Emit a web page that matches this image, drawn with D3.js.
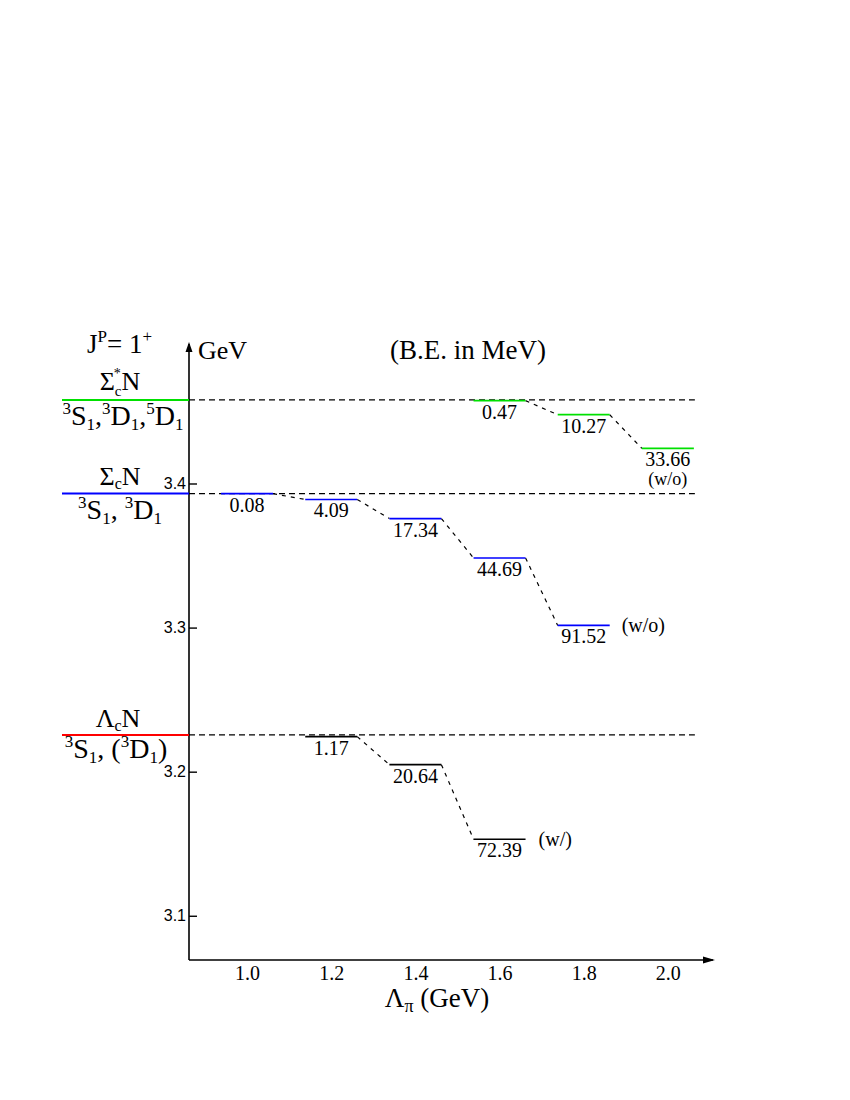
<!doctype html>
<html>
<head>
<meta charset="utf-8">
<style>
  body { margin: 0; background: #fff; }
  svg { display: block; }
  .serif { font-family: "Liberation Serif", "Times New Roman", serif; }
</style>
<script src="https://d3js.org/d3.v7.min.js"></script>
</head>
<body>
<svg width="850" height="1100"></svg>
<script>
// ---- data ----
var xTicks = [1.0, 1.2, 1.4, 1.6, 1.8, 2.0];
var yTicks = [3.1, 3.2, 3.3, 3.4];
var channels = ["SigmaStarN", "SigmaN", "LambdaN"];
var thresholdMass = [3.458, 3.393, 3.2255];     // GeV
var channelColor = ["#00e000", "#0000ff", "#ff0000"];

var sigmaStarLam = [1.6, 1.8, 2.0];
var sigmaStarBE  = [0.47, 10.27, 33.66];       // MeV
var sigmaLam = [1.0, 1.2, 1.4, 1.6, 1.8];
var sigmaBE  = [0.08, 4.09, 17.34, 44.69, 91.52];
var lambdaLam = [1.2, 1.4, 1.6];
var lambdaBE  = [1.17, 20.64, 72.39];

var svg = d3.select("svg");

var x = d3.scaleLinear().domain([0.862, 2.112]).range([189, 715]);
var y = d3.scaleLinear().domain([3.0693, 3.4982]).range([960, 342]);

var halfW = 26;   // half length of a level bar (px)

// axes lines with arrows
svg.append("line").attr("x1", x(0.862)).attr("x2", x(0.862)).attr("y1", y(3.0693)).attr("y2", y(3.4982) + 2)
   .attr("stroke", "#000").attr("stroke-width", 1.6);
svg.append("line").attr("x1", x(0.862)).attr("x2", x(2.112) - 2).attr("y1", y(3.0693)).attr("y2", y(3.0693))
   .attr("stroke", "#000").attr("stroke-width", 1.6);
svg.append("path")
   .attr("d", "M" + x(0.862) + "," + y(3.4982) + " l-3.5,10 l7,0 z").attr("fill", "#000");
svg.append("path")
   .attr("d", "M" + x(2.112) + "," + y(3.0693) + " l-12,-3.5 l0,7 z").attr("fill", "#000");

// y axis ticks (inward) with labels on the left
var yAxis = svg.append("g")
   .attr("transform", "translate(" + x(0.862) + ",0)")
   .call(d3.axisLeft(y).tickValues(yTicks).tickFormat(d3.format(".1f")).tickSize(-8).tickPadding(3));
yAxis.select(".domain").remove();
yAxis.selectAll("line").attr("stroke-width", 1.4);
yAxis.selectAll("text").attr("font-family", "'Liberation Sans', Arial, sans-serif").attr("font-size", 16);

// x axis labels, no ticks
var xAxis = svg.append("g")
   .attr("transform", "translate(0," + y(3.0693) + ")")
   .attr("font-family", "'Liberation Serif', 'Times New Roman', serif")
   .call(d3.axisBottom(x).tickValues(xTicks).tickFormat(d3.format(".1f")).tickSize(0).tickPadding(6));
xAxis.select(".domain").remove();
xAxis.selectAll("text").attr("font-family", "'Liberation Serif', 'Times New Roman', serif")
   .attr("font-size", 20).attr("fill", "#000");

// helper for rich text: parts = [text, size, dy, dx]
function rich(px, py, parts, anchor, size) {
  var t = svg.append("text").attr("class", "serif").attr("x", px).attr("y", py)
    .attr("font-size", size).attr("text-anchor", anchor || "start").attr("fill", "#000");
  parts.forEach(function(p) {
    var s = t.append("tspan").text(p[0]);
    if (p[1]) s.attr("font-size", p[1]);
    if (p[2]) s.attr("dy", p[2]);
    if (p[3]) s.attr("dx", p[3]);
  });
  return t;
}

// headers
rich(87, 353, [["J"], ["P", 17, -11], ["= 1", null, 11], ["+", 17, -11]], "start", 27);
rich(198, 359, [["GeV"]], "start", 26);
rich(468, 359, [["(B.E. in MeV)"]], "middle", 27);

// threshold lines: coloured solid on the left, dashed across the plot
thresholdMass.forEach(function(m, i) {
  svg.append("line").attr("x1", 62).attr("x2", x(0.862)).attr("y1", y(m)).attr("y2", y(m))
     .attr("stroke", channelColor[i]).attr("stroke-width", 2);
  svg.append("line").attr("x1", x(0.862)).attr("x2", x(2.0) + halfW + 1).attr("y1", y(m)).attr("y2", y(m))
     .attr("stroke", "#000").attr("stroke-width", 1.3).attr("stroke-dasharray", "6,4");
});

// channel labels
rich(120, 390, [["Σ"], ["*", 14, -12, -1], ["c", 15, 18, -6], ["N", null, -6]], "middle", 26);
rich(123, 425, [["3", 17, -11], ["S", null, 11], ["1", 17, 5], [",", null, -5], ["3", 17, -11], ["D", null, 11], ["1", 17, 5],
                [",", null, -5], ["5", 17, -11], ["D", null, 11], ["1", 17, 5]], "middle", 28);
rich(120, 485, [["Σ"], ["c", 16, 4], ["N", null, -4]], "middle", 26);
rich(120, 519, [["3", 17, -11], ["S", null, 11], ["1", 17, 5], [", ", null, -5], ["3", 17, -11], ["D", null, 11], ["1", 17, 5]], "middle", 28);
rich(118, 727, [["Λ"], ["c", 16, 4], ["N", null, -4]], "middle", 26);
rich(116, 758, [["3", 17, -11], ["S", null, 11], ["1", 17, 5], [", (", null, -5], ["3", 17, -11], ["D", null, 11], ["1", 17, 5], [")", null, -5]], "middle", 28);

// bound state levels
function levels(lams, bes, mass, color) {
  var pts = lams.map(function(l, i) { return { lam: l, be: bes[i], e: mass - bes[i] / 1000 }; });
  var g = svg.append("g");
  // dashed connectors
  for (var i = 0; i < pts.length - 1; i++) {
    g.append("line")
      .attr("x1", x(pts[i].lam) + halfW).attr("y1", y(pts[i].e))
      .attr("x2", x(pts[i + 1].lam) - halfW).attr("y2", y(pts[i + 1].e))
      .attr("stroke", "#000").attr("stroke-width", 1.2).attr("stroke-dasharray", "4,5");
  }
  g.selectAll("line.lev").data(pts).enter().append("line").attr("class", "lev")
    .attr("x1", function(d) { return x(d.lam) - halfW; })
    .attr("x2", function(d) { return x(d.lam) + halfW; })
    .attr("y1", function(d) { return y(d.e); })
    .attr("y2", function(d) { return y(d.e); })
    .attr("stroke", color).attr("stroke-width", 1.7);
  g.selectAll("text").data(pts).enter().append("text").attr("class", "serif")
    .attr("x", function(d) { return x(d.lam); })
    .attr("y", function(d) { return y(d.e) + 18; })
    .attr("text-anchor", "middle").attr("font-size", 20)
    .text(function(d) { return d.be.toFixed(2); });
  return pts;
}

var pStar = levels(sigmaStarLam, sigmaStarBE, thresholdMass[0], channelColor[0]);
var pSig = levels(sigmaLam, sigmaBE, thresholdMass[1], channelColor[1]);
var pLam = levels(lambdaLam, lambdaBE, thresholdMass[2], "#000");

// notes
var lastStar = pStar[pStar.length - 1];
rich(x(lastStar.lam), y(lastStar.e) + 37, [["(w/o)"]], "middle", 18);
var lastSig = pSig[pSig.length - 1];
rich(x(lastSig.lam) + halfW + 12, y(lastSig.e) + 7, [["(w/o)"]], "start", 20);
var lastLam = pLam[pLam.length - 1];
rich(x(lastLam.lam) + halfW + 13, y(lastLam.e) + 7, [["(w/)"]], "start", 20);

// x axis title
rich(437, 1007, [["Λ"], ["π", 18, 5], [" (GeV)", null, -5]], "middle", 27);
</script>
</body>
</html>
